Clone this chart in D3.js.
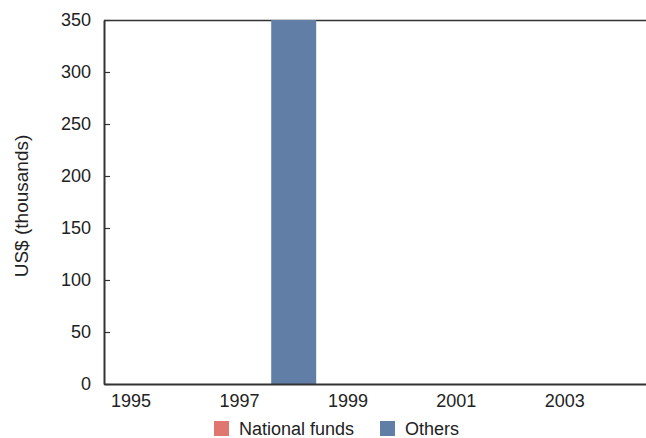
<!DOCTYPE html>
<html>
<head>
<meta charset="utf-8">
<script src="https://cdn.jsdelivr.net/npm/d3@7"></script>
<style>
  html, body { margin: 0; padding: 0; background: #fff; }
  svg { display: block; font-family: "Liberation Sans", Arial, sans-serif; }
</style>
</head>
<body>
<svg id="chart" width="646" height="438"></svg>
<script>
// Funding by year, US$ thousands
const years = ["1995", "1996", "1997", "1998", "1999", "2000", "2001", "2002", "2003", "2004"];
const nationalFunds = [0, 0, 0, 0, 0, 0, 0, 0, 0, 0];
const others = [0, 0, 0, 350, 0, 0, 0, 0, 0, 0];
const yTicks = [0, 50, 100, 150, 200, 250, 300, 350];
const xTickLabels = ["1995", "1997", "1999", "2001", "2003"];
const seriesNames = ["National funds", "Others"];
const seriesColors = ["#df7670", "#617fa6"];

const svg = d3.select("#chart");
const W = 646, H = 438;
const margin = { top: 20, right: 0, bottom: 54, left: 104 };
const innerW = W - margin.left - margin.right;
const innerH = H - margin.top - margin.bottom;

const rows = years.map((y, i) => ({ year: y, "National funds": nationalFunds[i], "Others": others[i] }));
const stacked = d3.stack().keys(seriesNames)(rows);

const x = d3.scaleBand().domain(years).range([0, innerW]).paddingInner(0.17).paddingOuter(0.085);
const y = d3.scaleLinear().domain([0, 350]).range([innerH, 0]);
const color = d3.scaleOrdinal().domain(seriesNames).range(seriesColors);

const g = svg.append("g").attr("transform", `translate(${margin.left},${margin.top})`);

// top frame line
g.append("line")
  .attr("x1", 0).attr("x2", innerW)
  .attr("y1", 0.5).attr("y2", 0.5)
  .attr("stroke", "#333").attr("stroke-width", 1.5);

// stacked bars
g.append("g").selectAll("g")
  .data(stacked)
  .join("g")
  .attr("fill", d => color(d.key))
  .selectAll("rect")
  .data(d => d)
  .join("rect")
  .attr("x", d => x(d.data.year))
  .attr("width", x.bandwidth())
  .attr("y", d => y(d[1]))
  .attr("height", d => y(d[0]) - y(d[1]));

// y axis with inward ticks
const yAxis = g.append("g")
  .call(d3.axisLeft(y).tickValues(yTicks).tickSizeInner(-6).tickSizeOuter(0).tickPadding(13));
yAxis.select(".domain").attr("stroke", "#333").attr("stroke-width", 2);
yAxis.selectAll(".tick line").attr("stroke", "#333").attr("stroke-width", 1.2);
yAxis.selectAll(".tick text")
  .attr("fill", "#222").attr("font-size", 18).attr("font-family", "Liberation Sans, Arial, sans-serif");

// x axis
const xAxis = g.append("g")
  .attr("transform", `translate(0,${innerH})`)
  .call(d3.axisBottom(x).tickValues(xTickLabels).tickSize(0).tickPadding(10));
xAxis.select(".domain").attr("stroke", "#333").attr("stroke-width", 2);
xAxis.selectAll(".tick text")
  .attr("fill", "#222").attr("font-size", 18).attr("font-family", "Liberation Sans, Arial, sans-serif");

// y axis title
svg.append("text")
  .attr("transform", "translate(28,206) rotate(-90)")
  .attr("text-anchor", "middle")
  .attr("fill", "#222")
  .attr("font-size", 19)
  .text("US$ (thousands)");

// legend
const legend = svg.append("g").attr("transform", "translate(214,421)");
const legendItems = [
  { name: seriesNames[0], dx: 0 },
  { name: seriesNames[1], dx: 166 }
];
const li = legend.selectAll("g").data(legendItems).join("g")
  .attr("transform", d => `translate(${d.dx},0)`);
li.append("rect").attr("width", 15).attr("height", 15).attr("fill", d => color(d.name));
li.append("text").attr("x", 25).attr("y", 13.5).attr("font-size", 18).attr("fill", "#222").text(d => d.name);
</script>
</body>
</html>
